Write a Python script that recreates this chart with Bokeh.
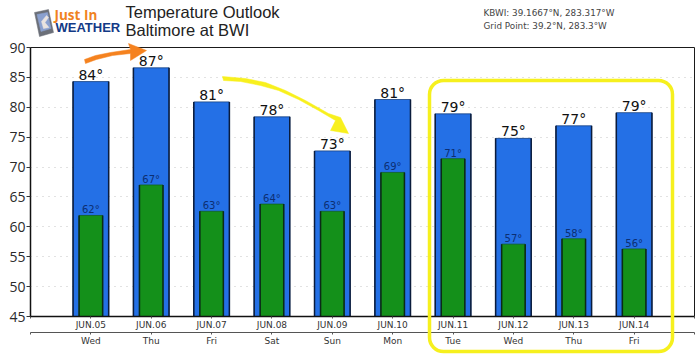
from bokeh.plotting import figure
from bokeh.layouts import column
from bokeh.models import (Range1d, LinearAxis, FixedTicker, ColumnDataSource,
                          BoxAnnotation, Grid)
from bokeh.core.properties import value
from bokeh.embed import file_html
from bokeh.resources import INLINE

dates = ["JUN.05", "JUN.06", "JUN.07", "JUN.08", "JUN.09", "JUN.10", "JUN.11", "JUN.12", "JUN.13", "JUN.14"]
days = ["Wed", "Thu", "Fri", "Sat", "Sun", "Mon", "Tue", "Wed", "Thu", "Fri"]
highs = [84.3, 86.6, 80.9, 78.4, 72.7, 81.3, 78.9, 74.8, 76.9, 79.1]
lows = [61.9, 67.0, 62.6, 63.8, 62.6, 69.1, 71.4, 57.1, 58.0, 56.3]
high_labels = ["84°", "87°", "81°", "78°", "73°", "81°", "79°", "75°", "77°", "79°"]
low_labels = ["62°", "67°", "63°", "64°", "63°", "69°", "71°", "57°", "58°", "56°"]
y_ticks = [45, 50, 55, 60, 65, 70, 75, 80, 85, 90]

xs = list(range(len(dates)))
HW, LW = 0.59, 0.39
src = ColumnDataSource(dict(x=xs, high=highs, low=lows, hl=high_labels, ll=low_labels,
                            hl_l=[i - HW / 2 for i in xs], hl_r=[i + HW / 2 for i in xs],
                            lo_l=[i - LW / 2 for i in xs], lo_r=[i + LW / 2 for i in xs]))

W, H = 700, 357
p = figure(width=W, height=H, output_backend="svg", toolbar_location=None,
           x_range=Range1d(-1, 10), y_range=Range1d(45, 90),
           min_border_left=30, min_border_right=6, min_border_top=47, min_border_bottom=41,
           x_axis_type=None, y_axis_type=None, background_fill_color="white",
           border_fill_color="white", outline_line_color="#1a1a1a", outline_line_width=1,
           frame_align=False)

ya = LinearAxis(ticker=FixedTicker(ticks=y_ticks))
ya.axis_line_color = "#111111"
ya.axis_line_width = 1.5
ya.major_tick_line_color = "#333333"
ya.major_tick_in = 0
ya.major_tick_out = 4
ya.minor_tick_line_color = None
ya.major_label_text_font = "Open Sans"
ya.major_label_text_font_size = "14px"
ya.major_label_text_color = "#2a2a2a"
ya.major_label_standoff = 1
p.add_layout(ya, "left")

edge_ticks = [-1] + xs + [10]
xa = LinearAxis(ticker=FixedTicker(ticks=edge_ticks),
                major_label_overrides={**{i: d for i, d in enumerate(dates)}, -1: "", 10: ""})
xa2 = LinearAxis(ticker=FixedTicker(ticks=edge_ticks),
                 major_label_overrides={**{i: d for i, d in enumerate(days)}, -1: "", 10: ""})
for a, col in ((xa, "#111111"), (xa2, "#555555")):
    a.axis_line_color = col
    a.axis_line_width = 1.5 if a is xa else 1
    a.major_tick_line_color = "#555555"
    a.major_tick_in = 0
    a.major_tick_out = 2
    a.minor_tick_line_color = None
    a.major_label_text_font = "DejaVu Sans"
    a.major_label_text_font_size = "9px"
    a.major_label_text_color = "#333333"
    a.major_label_standoff = 1
p.add_layout(xa, "below")
p.add_layout(xa2, "below")

grid = Grid(dimension=1, ticker=FixedTicker(ticks=y_ticks[1:-1]), grid_line_color="#c4c4c4",
            grid_line_dash="1 5", grid_line_width=1)
p.add_layout(grid)

p.vbar(x="x", top="high", bottom=45, width=HW, source=src, fill_color="#2470e6",
       line_color="#16407f", line_width=0.8)
p.segment(x0="hl_l", x1="hl_l", y0=45, y1="high", source=src, line_color="#0b1c3c", line_width=1.5)
p.segment(x0="hl_r", x1="hl_r", y0=45, y1="high", source=src, line_color="#0b1c3c", line_width=1.5)
p.vbar(x="x", top="low", bottom=45, width=LW, source=src, fill_color="#14901a",
       line_color="#14621f", line_width=0.8)
p.segment(x0="lo_l", x1="lo_l", y0=45, y1="low", source=src, line_color="#0b2a16", line_width=1.5)
p.segment(x0="lo_r", x1="lo_r", y0=45, y1="low", source=src, line_color="#0b2a16", line_width=1.5)
p.text(x="x", y="high", text="hl", source=src, text_align="center", text_baseline="bottom",
       text_font=value("DejaVu Sans"), text_font_size="14px", text_color="#111111", y_offset=1)
p.text(x="x", y="low", text="ll", source=src, text_align="center", text_baseline="bottom",
       text_font=value("DejaVu Sans"), text_font_size="10px", text_color="#0c2f73", y_offset=0)

# Transparent sheet over the chart for logo, titles and hand-drawn marks (pixel coordinates)
o = figure(width=W, height=H, output_backend="svg", toolbar_location=None,
           x_range=Range1d(0, W), y_range=Range1d(H, 0), x_axis_type=None, y_axis_type=None,
           min_border=0, background_fill_color=None, border_fill_color=None,
           outline_line_color=None, margin=(-H, 0, 0, 0), frame_align=False)


def poly(points, color):
    o.patch([q[0] for q in points], [q[1] for q in points], fill_color=color, line_color=color, line_width=0.5)


def label(x, y, text, size, color="#222222", font="Liberation Sans", weight="normal"):
    o.text([x], [y], text=[text], text_font=value(font), text_font_size=size, text_color=color,
           text_font_style=weight, text_baseline="top", text_align="left")


o.add_layout(BoxAnnotation(left=429, right=672, top=80, bottom=351, fill_alpha=0, line_color="#f6f01e",
                           line_alpha=1.0, line_width=3.5, border_radius=14))

# Arrows
poly([(84, 59), (95, 55), (110, 52), (130, 49), (128, 43), (146, 50), (130, 60), (130, 53),
      (112, 55), (96, 59), (85, 63)], "#f5821f")
poly([(222, 76), (245, 78), (265, 82), (285, 90), (305, 100), (328, 113), (340, 117), (348, 133),
      (330, 130), (335, 120), (318, 110), (298, 99), (278, 90), (260, 85), (240, 81), (223, 80)], "#f8f01e")

# Titles
label(125, 2, "Temperature Outlook", "16.5px")
label(125, 20.5, "Baltimore at BWI", "16.5px")
label(483, 7.5, "KBWI: 39.1667°N, 283.317°W", "8.8px", color="#444444", font="DejaVu Sans")
label(483, 20.5, "Grid Point: 39.2°N, 283.3°W", "8.8px", color="#444444", font="DejaVu Sans")

# Logo
poly([(34, 12), (48, 9), (53, 32), (39, 36)], "#6b6f78")
poly([(36.5, 14), (47, 12), (50.5, 28), (40.5, 31)], "#8aa0cf")
poly([(43, 28), (41, 21), (46, 15), (48, 17), (44.5, 22), (48.5, 27)], "#e9e3e0")
label(54, 5, "Just In", "13.5px", color="#f0821e", font="Open Sans", weight="bold")
label(55, 19, "WEATHER", "13px", color="#123a86", font="Liberation Sans", weight="bold")

open("out.html", "w").write(file_html(column(p, o), INLINE))
